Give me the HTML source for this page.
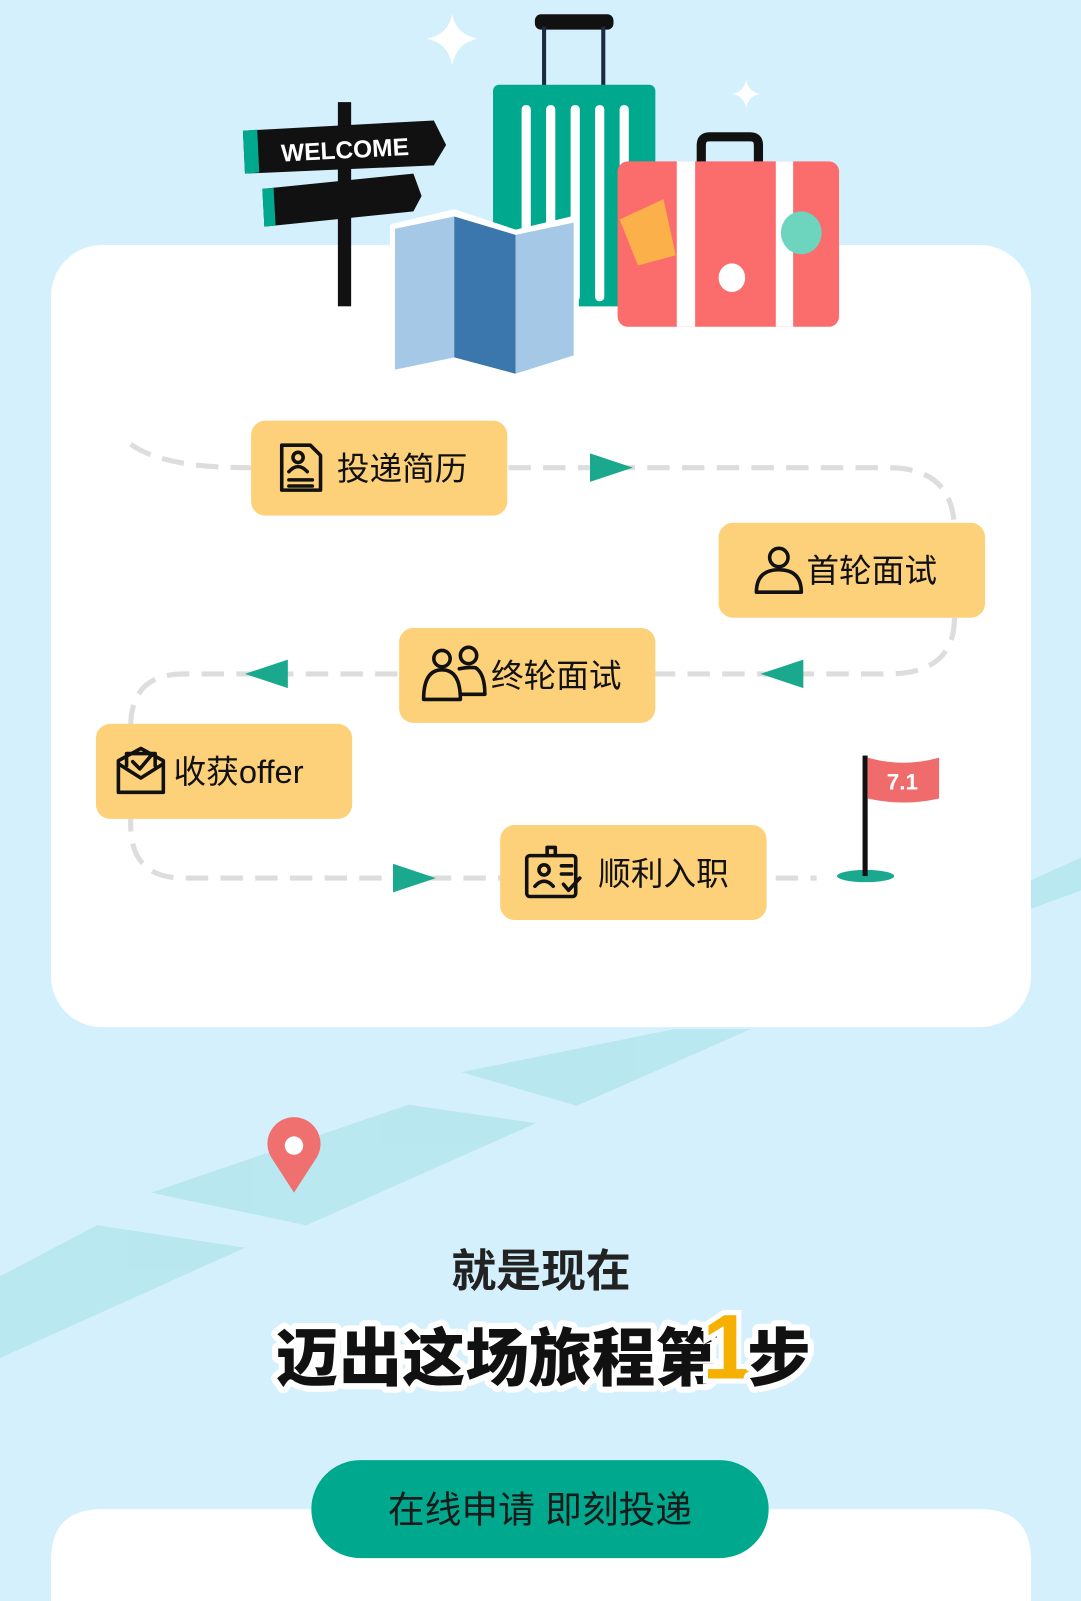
<!DOCTYPE html>
<html><head><meta charset="utf-8"><style>
html,body{margin:0;padding:0;background:#d4f0fc;width:1081px;height:1601px;overflow:hidden;}
svg{display:block}
text{font-family:"Liberation Sans","Noto Sans CJK SC",sans-serif;}
</style></head><body>
<svg width="1081" height="1601" viewBox="0 0 1059 1568" preserveAspectRatio="none" xmlns="http://www.w3.org/2000/svg">
<rect width="1059" height="1568" fill="#d4f0fc"/>
<g fill="#b2e6ec" opacity="0.8">
<polygon points="1010,862 1059,840 1059,872 1010,890"/>
<polygon points="452,1050 660,1008 735,1008 565,1083"/>
<polygon points="148,1168 400,1082 525,1100 300,1200"/>
<polygon points="0,1250 95,1200 240,1222 0,1330"/>
</g>
<rect x="50" y="240" width="960" height="766" rx="50" fill="#fff"/>
<path d="M50,1568 V1528 Q50,1478 100,1478 H960 Q1010,1478 1010,1528 V1568 Z" fill="#fff"/>
<path d="M443,14 Q447,34 468,38 Q447,42 443,64 Q439,42 418,38 Q439,34 443,14Z" fill="#fff"/>
<path d="M731,78 Q733,90 745,92 Q733,94 731,106 Q729,94 717,92 Q729,90 731,78Z" fill="#fff"/>
<rect x="524" y="14" width="77" height="15" rx="6" fill="#111"/>
<rect x="531" y="26" width="4" height="60" fill="#1b2a40"/>
<rect x="589" y="26" width="4" height="60" fill="#1b2a40"/>
<rect x="483" y="83" width="159" height="217" rx="6" fill="#00a88e"/>
<g fill="#fff"><rect x="511" y="103" width="9" height="192" rx="4"/><rect x="535" y="103" width="9" height="192" rx="4"/><rect x="559" y="103" width="9" height="192" rx="4"/><rect x="583" y="103" width="9" height="192" rx="4"/><rect x="607" y="103" width="9" height="192" rx="4"/></g>
<path d="M687,160 V142 Q687,134 695,134 H735 Q743,134 743,142 V160" fill="none" stroke="#111" stroke-width="9"/>
<rect x="605" y="158" width="217" height="162" rx="10" fill="#fb6c6c"/>
<rect x="663" y="158" width="18" height="162" fill="#fff"/>
<rect x="760" y="158" width="17" height="162" fill="#fff"/>
<polygon points="607,215 650,195 662,250 625,260" fill="#fbb04a"/>
<ellipse cx="785" cy="228" rx="20" ry="21" fill="#6dd4be"/>
<ellipse cx="717" cy="272" rx="13" ry="14" fill="#fff"/>
<rect x="331" y="100" width="13" height="200" fill="#111"/>
<polygon points="238,128 425,118 437,142 425,162 240,170" fill="#111"/>
<polygon points="238,128 252,127 254,169 240,170" fill="#00a88e"/>
<polygon points="257,185 405,170 413,192 405,207 259,222" fill="#111"/>
<polygon points="257,185 268,184 270,221 259,222" fill="#00a88e"/>
<text x="338" y="155" font-size="24" font-weight="bold" fill="#fff" text-anchor="middle" transform="rotate(-3 338 148)">WELCOME</text>
<g stroke="#fff" stroke-width="6" stroke-linejoin="round">
<polygon points="385,222 445,208 505,228 564,214 564,350 505,368 445,350 385,364" fill="#fff"/>
</g>
<polygon points="387,224 445,212 445,350 387,362" fill="#a4c8e5"/>
<polygon points="445,212 505,230 505,366 445,350" fill="#3b76ad"/>
<polygon points="505,230 562,218 562,348 505,366" fill="#a4c8e5"/>
<g fill="none" stroke="#dddddd" stroke-width="5" stroke-dasharray="22 12">
<path d="M128,435 Q160,458 240,458 H870 Q935,458 935,520"/>
<path d="M935,605 Q935,660 870,660 H180 Q128,660 128,712 V808 Q128,860 180,860 H800"/>
</g>
<g fill="#1aa98e">
<polygon points="578,444 620,458 578,472"/>
<polygon points="787,646 745,660 787,674"/>
<polygon points="282,646 240,660 282,674"/>
<polygon points="385,846 427,860 385,874"/>
</g>
<g fill="#fdd17a">
<rect x="246" y="412" width="251" height="93" rx="14"/>
<rect x="704" y="512" width="261" height="93" rx="14"/>
<rect x="391" y="615" width="251" height="93" rx="14"/>
<rect x="94" y="709" width="251" height="93" rx="14"/>
<rect x="490" y="808" width="261" height="93" rx="14"/>
</g>
<g font-size="32" fill="#111">
<text x="330" y="470">投递简历</text>
<text x="790" y="570">首轮面试</text>
<text x="481" y="673">终轮面试</text>
<text x="170" y="767">收获offer</text>
<text x="586" y="867">顺利入职</text>
</g>
<g fill="none" stroke="#111" stroke-width="3.5" stroke-linejoin="round" stroke-linecap="round">
<path d="M276,436 H304 L314,446 V480 H276 Z"/>
<circle cx="292" cy="448" r="5"/><path d="M283,462 Q292,452 301,462 M283,470 H306 M283,476 H306"/>
<circle cx="763" cy="546" r="9"/><path d="M741,580 Q741,558 763,558 Q785,558 785,580 Z"/>
<circle cx="433" cy="645" r="8"/><path d="M415,685 Q415,656 433,656 Q451,656 451,685 Z"/>
<circle cx="459" cy="642" r="8"/><path d="M450,655 Q459,653 466,654 Q475,660 475,680 H451"/>
<path d="M116,745 L138,733 L160,745 V776 H116 Z M116,748 L138,762 L160,748 M124,750 V738 H152 V750 M130,746 L137,753 L148,740"/>
<rect x="516" y="838" width="48" height="40" rx="3"/><path d="M536,838 V830 H544 V838"/>
<circle cx="533" cy="852" r="5"/><path d="M524,868 Q533,858 542,868 M550,848 H560 M550,856 H560 M552,866 L557,872 L568,860"/>
</g>
<ellipse cx="848" cy="858" rx="28" ry="6" fill="#1aa98e"/>
<rect x="845" y="740" width="5" height="118" fill="#111"/>
<path d="M850,742 Q885,752 920,742 V782 Q885,790 850,782 Z" fill="#f06b6b"/>
<text x="884" y="773" font-size="22" font-weight="bold" fill="#fff" text-anchor="middle">7.1</text>
<path d="M288,1168 L266,1134 A26,26 0 1 1 310,1134 Z" fill="#f07070"/>
<circle cx="288" cy="1122" r="9" fill="#fff"/>
<text x="530" y="1260" font-size="44" font-weight="bold" fill="#222" text-anchor="middle">就是现在</text>
<g font-size="62" font-weight="900" text-anchor="start">
<text x="270" y="1352" fill="#fff" stroke="#fff" stroke-width="12" stroke-linejoin="round">迈出这场旅程第</text>
<text x="270" y="1352" fill="#111">迈出这场旅程第</text>
<text x="688" y="1350" font-size="90" fill="#f5b000" stroke="#fff" stroke-width="10" paint-order="stroke">1</text>
<text x="732" y="1352" fill="#fff" stroke="#fff" stroke-width="12" stroke-linejoin="round">步</text>
<text x="732" y="1352" fill="#111">步</text>
</g>
<rect x="305" y="1430" width="448" height="96" rx="48" fill="#00a88e"/>
<text x="529" y="1491" font-size="36" fill="#1a1a1a" text-anchor="middle">在线申请 即刻投递</text>
</svg>
</body></html>
